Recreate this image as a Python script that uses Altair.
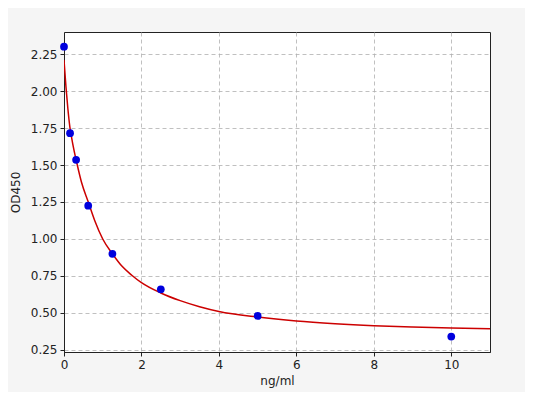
import altair as alt
import pandas as pd

# measured standards
conc = [0.0, 0.156, 0.3125, 0.625, 1.25, 2.5, 5.0, 10.0]
od = [2.30, 1.715, 1.535, 1.225, 0.90, 0.66, 0.48, 0.34]

# fitted curve
curve_x = [0.0, 0.05, 0.1, 0.15, 0.2, 0.25, 0.343, 0.45, 0.627, 0.8, 1.0,
           1.25, 1.5, 1.75, 2.0, 2.5, 3.0, 3.5, 4.0, 5.0, 6.0, 7.0, 8.0,
           9.0, 10.0, 11.0]
curve_y = [2.21, 2.03, 1.88, 1.76, 1.68, 1.61, 1.50, 1.385, 1.25, 1.12, 1.0,
           0.90, 0.815, 0.755, 0.705, 0.635, 0.583, 0.542, 0.51, 0.472, 0.445,
           0.427, 0.414, 0.405, 0.398, 0.393]

x_ticks = [0, 2, 4, 6, 8, 10]
y_ticks = [0.25, 0.5, 0.75, 1.0, 1.25, 1.5, 1.75, 2.0, 2.25]

pts = pd.DataFrame({"x": conc, "y": od})
crv = pd.DataFrame({"x": curve_x, "y": curve_y})

xs = alt.Scale(domain=[0, 11], nice=False, zero=False)
ys = alt.Scale(domain=[0.236, 2.399], nice=False, zero=False)

xax = alt.Axis(values=x_ticks, title="ng/ml", format="d", grid=True,
               gridDash=[4, 3], gridColor="#b0b0b0", gridWidth=0.8,
               labelOverlap=False)
yax = alt.Axis(values=y_ticks, title="OD450", format=".2f", grid=True,
               gridDash=[4, 3], gridColor="#b0b0b0", gridWidth=0.8,
               labelOverlap=False)

line = alt.Chart(crv).mark_line(color="#cc0000", strokeWidth=1.5, clip=True,
                                interpolate="monotone").encode(
    x=alt.X("x:Q", scale=xs, axis=xax),
    y=alt.Y("y:Q", scale=ys, axis=yax),
)
dots = alt.Chart(pts).mark_circle(color="#0000dd", size=60, opacity=1).encode(
    x=alt.X("x:Q", scale=xs, axis=xax),
    y=alt.Y("y:Q", scale=ys, axis=yax),
)

chart = (line + dots).properties(
    width=426, height=320,
    autosize=alt.AutoSizeParams(type="none"),
    padding={"left": 56, "top": 24, "right": 35, "bottom": 40},
    background="#f5f5f5",
).configure_view(
    stroke="#222222", strokeWidth=1, fill="white"
).configure_axis(
    labelFont="DejaVu Sans", titleFont="DejaVu Sans",
    labelFontSize=12, titleFontSize=12, titleFontWeight="normal",
    labelColor="#222222", titleColor="#222222",
    domainColor="#222222", tickColor="#222222", tickSize=4,
    labelPadding=3, labelFlush=False, labelOverlap=False,
).configure_axisX(titlePadding=5).configure_axisY(titlePadding=8)

chart.save("out.html", embed_options={"renderer": "svg", "actions": False})
